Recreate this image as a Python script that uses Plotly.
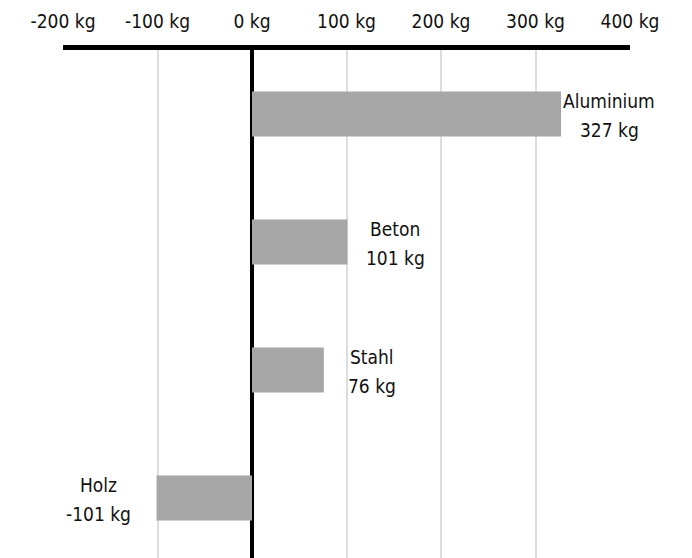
import plotly.graph_objects as go

materials = ["Aluminium", "Beton", "Stahl", "Holz"]
values = [327, 101, 76, -101]
tick_vals = [-200, -100, 0, 100, 200, 300, 400]
tick_text = [f"{v} kg" for v in tick_vals]

FONT = "DejaVu Sans Condensed, DejaVu Sans, sans-serif"

fig = go.Figure(go.Bar(
    x=values, y=materials, orientation="h",
    marker=dict(color="#a6a6a6", line=dict(width=0)),
    width=0.35, hoverinfo="skip",
))

annotations = []
for m, v in zip(materials, values):
    sh = 48 if v >= 0 else -58
    annotations.append(dict(x=v, y=m, xref="x", yref="y", text=m, showarrow=False,
                            xanchor="center", yanchor="middle", xshift=sh, yshift=13,
                            font=dict(family=FONT, size=19, color="#111")))
    annotations.append(dict(x=v, y=m, xref="x", yref="y", text=f"{v} kg", showarrow=False,
                            xanchor="center", yanchor="middle", xshift=sh, yshift=-16,
                            font=dict(family=FONT, size=19, color="#111")))

fig.update_layout(
    width=692, height=558,
    margin=dict(l=55, r=70, t=42, b=4),
    paper_bgcolor="white", plot_bgcolor="white",
    showlegend=False,
    font=dict(family=FONT, size=19, color="#111"),
    annotations=annotations,
    xaxis=dict(
        side="top", range=[-200, 400], tickvals=tick_vals, ticktext=tick_text,
        automargin=False,
        showgrid=True, gridcolor="#dddddd", gridwidth=2,
        zeroline=True, zerolinecolor="black", zerolinewidth=4,
        showline=True, linecolor="black", linewidth=5,
        ticks="", ticklabelstandoff=9,
        tickfont=dict(family=FONT, size=19, color="#111"),
    ),
    yaxis=dict(
        categoryorder="array", categoryarray=materials[::-1],
        automargin=False,
        showticklabels=False, showgrid=False, zeroline=False, ticks="",
        range=[-0.5, 3.5],
    ),
)

fig.write_html("out.html")
